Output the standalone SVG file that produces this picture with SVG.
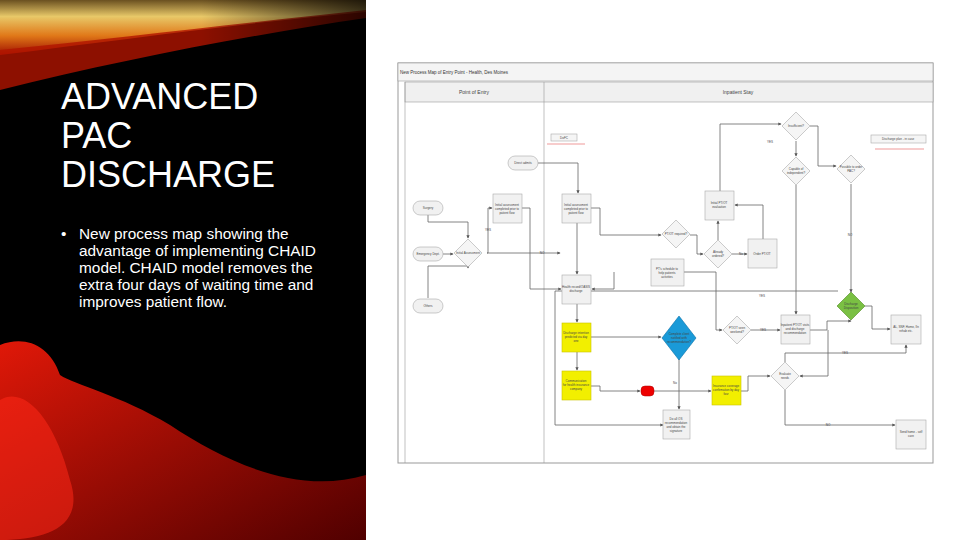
<svg xmlns="http://www.w3.org/2000/svg" width="960" height="540" viewBox="0 0 960 540">
<defs>
<style>
.t{font-family:"Liberation Sans",Arial,sans-serif;fill:#fff}
.s{font-family:"Liberation Sans",Arial,sans-serif;font-size:3px;fill:#444;text-anchor:middle}
.h{font-family:"Liberation Sans",Arial,sans-serif;font-size:5px;fill:#444;text-anchor:middle}
.b{fill:#f1f1f1;stroke:#aaa;stroke-width:0.6}
.y{fill:#f2ef00;stroke:#c9c400;stroke-width:0.6}
.r{fill:#f5f5f5;stroke:#aaa;stroke-width:0.6}
.c path{fill:none;stroke:#666;stroke-width:0.8;marker-end:url(#a)}
</style>
<marker id="a" viewBox="0 0 6 6" refX="5" refY="3" markerWidth="4" markerHeight="4" orient="auto"><path d="M0,0L6,3L0,6z" fill="#555"/></marker>
<linearGradient id="g1" x1="0" y1="0" x2="0" y2="1"><stop offset="0" stop-color="#6a5020"/><stop offset="0.3" stop-color="#e8c868"/><stop offset="0.65" stop-color="#e07818"/><stop offset="1" stop-color="#a01000"/></linearGradient>
<linearGradient id="g2" x1="0" y1="0" x2="1" y2="1"><stop offset="0" stop-color="#e01808"/><stop offset="1" stop-color="#500000"/></linearGradient>
<linearGradient id="fade" x1="0" y1="0" x2="1" y2="0"><stop offset="0.55" stop-color="#000" stop-opacity="0"/><stop offset="1" stop-color="#000" stop-opacity="0.7"/></linearGradient>
</defs>
<rect width="960" height="540" fill="#fff"/>
<g id="panel">
<rect width="366" height="540" fill="#000"/>
<path d="M0,0H366V12C250,22 120,40 0,55Z" fill="url(#g1)"/>
<path d="M0,50C120,38 250,22 366,10V18C250,35 120,60 0,90Z" fill="#b01400" opacity="0.8"/>
<rect width="366" height="90" fill="url(#fade)"/>
<path d="M0,345C25,335 50,345 60,375C75,385 120,395 170,425C230,465 300,495 366,475V540H0Z" fill="url(#g2)"/>
<path d="M0,400C25,385 55,420 70,480C85,525 50,540 0,540Z" fill="#ff2818" opacity="0.55"/>
<text class="t" x="61" y="109" font-size="36">ADVANCED</text>
<text class="t" x="61" y="148" font-size="36">PAC</text>
<text class="t" x="61" y="187" font-size="36">DISCHARGE</text>
<text class="t" font-size="15.4"><tspan x="61" y="239">•</tspan><tspan x="79" y="239">New process map showing the</tspan><tspan x="79" y="256">advantage of implementing CHAID</tspan><tspan x="79" y="273">model. CHAID model removes the</tspan><tspan x="79" y="290">extra four days of waiting time and</tspan><tspan x="79" y="307">improves patient flow.</tspan></text>
</g>
<g id="frame">
<rect x="398" y="63" width="535" height="400" fill="#fff" stroke="#999"/>
<rect x="398" y="63" width="535" height="18" fill="#f4f4f4" stroke="#999" stroke-width="0.6"/>
<text x="400" y="74" font-family="Liberation Sans,Arial,sans-serif" font-size="4.5" fill="#333">New Process Map of Entry Point - Health, Des Moines</text>
<rect x="405" y="82" width="528" height="20" fill="#f0f0f0" stroke="#999" stroke-width="0.6"/>
<line x1="405" y1="82" x2="405" y2="463" stroke="#999" stroke-width="0.6"/>
<line x1="544" y1="82" x2="544" y2="463" stroke="#999" stroke-width="0.6"/>
<text class="h" x="474" y="94">Point of Entry</text>
<text class="h" x="738" y="94">Inpatient Stay</text>
</g>
<g class="c">
<path d="M428,215V222H468V238"/>
<path d="M443,254H453"/>
<path d="M428,298V266H468V268"/>
<path d="M487,253H560"/>
<path d="M487,253H488V208H492"/>
<path d="M538,163H578V193"/>
<path d="M522,208H530V289H561"/>
<path d="M591,208H600V235H661"/>
<path d="M577,223V274"/>
<path d="M577,304V322"/>
<path d="M577,352V370"/>
<path d="M591,337H661"/>
<path d="M591,386H600V391H640"/>
<path d="M654,391H711"/>
<path d="M679,359V409"/>
<path d="M690,235H697V254H703"/>
<path d="M732,254H747"/>
<path d="M718,240V221"/>
<path d="M763,239V205H735"/>
<path d="M720,191V124H781"/>
<path d="M810,126H818V166H836"/>
<path d="M796,141V156"/>
<path d="M796,185V314"/>
<path d="M684,272H716V330H722"/>
<path d="M751,330H780"/>
<path d="M810,330H827V321H851"/>
<path d="M865,306H872V329H890"/>
<path d="M851,184V292"/>
<path d="M741,391H748V376H770"/>
<path d="M828,330V376H800"/>
<path d="M785,390V425H895"/>
<path d="M785,362V353H906V345"/>
<path d="M838,291H555V425H663"/>
<path d="M614,272V289H592"/>
</g>
<g id="labels" class="s">
<text x="488" y="231">YES</text><text x="542" y="254">NO</text>
<text x="770" y="143">YES</text><text x="850" y="236">NO</text>
<text x="741" y="255">No</text><text x="763" y="331">YES</text>
<text x="762" y="297">YES</text><text x="845" y="354">YES</text>
<text x="828" y="426">NO</text><text x="675" y="384">No</text>
</g>
<g id="n-dofc"><rect x="551" y="134" width="26" height="7" class="r"/><text class="s" x="564" y="139">DoFC</text><line x1="547" y1="144" x2="585" y2="144" stroke="#d33" stroke-width="0.5"/></g>
<g id="n-note"><rect x="871" y="135" width="55" height="8" class="r"/><text class="s" x="898" y="140">Discharge plan - in case</text><line x1="875" y1="149" x2="924" y2="149" stroke="#d33" stroke-width="0.5"/></g>
<g id="n-direct"><rect x="508" y="156" width="30" height="14" rx="7" class="b"/><text class="s" x="523" y="164">Direct admits</text></g>
<g id="n-surgery"><rect x="413" y="201" width="30" height="14" rx="7" class="b"/><text class="s" x="428" y="209">Surgery</text></g>
<g id="n-ed"><rect x="413" y="247" width="30" height="14" rx="7" class="b"/><text class="s" x="428" y="255">Emergency Dept.</text></g>
<g id="n-others"><rect x="413" y="299" width="30" height="14" rx="7" class="b"/><text class="s" x="428" y="307">Others</text></g>
<g id="n-ia"><path d="M468,239L482,253L468,267L454,253Z" class="r"/><text class="s" x="468" y="254">Initial Assessment</text></g>
<g id="n-b1"><rect x="493" y="194" width="29" height="29" class="b"/><text class="s" x="507" y="206">Initial assessment</text><text class="s" x="507" y="210">completed prior to</text><text class="s" x="507" y="214">patient flow</text></g>
<g id="n-b2"><rect x="562" y="194" width="29" height="29" class="b"/><text class="s" x="576" y="206">Initial assessment</text><text class="s" x="576" y="210">completed prior to</text><text class="s" x="576" y="214">patient flow</text></g>
<g id="n-oasis"><rect x="562" y="275" width="29" height="29" class="b"/><text class="s" x="576" y="288">Health record/OASIS</text><text class="s" x="576" y="292">discharge</text></g>
<g id="n-y1"><rect x="562" y="323" width="29" height="29" class="y"/><text class="s" x="576" y="334">Discharge intention</text><text class="s" x="576" y="338">predicted via day</text><text class="s" x="576" y="342">one</text></g>
<g id="n-y2"><rect x="562" y="371" width="29" height="29" class="y"/><text class="s" x="576" y="382">Communication</text><text class="s" x="576" y="386">for health insurance</text><text class="s" x="576" y="390">company</text></g>
<g id="n-red"><rect x="641" y="386" width="13" height="10" rx="4" fill="#e00" stroke="#a00" stroke-width="0.5"/></g>
<g id="n-blue"><path d="M679,316L696,338L679,360L662,338Z" fill="#1a9ad8" stroke="#0a70a8" stroke-width="0.6"/><text class="s" x="679" y="335">Complete client</text><text class="s" x="679" y="339">notified with</text><text class="s" x="679" y="343">recommendation?</text></g>
<g id="n-doall"><rect x="663" y="410" width="27" height="29" class="b"/><text class="s" x="676" y="420">Do all OS</text><text class="s" x="676" y="424">recommendation</text><text class="s" x="676" y="428">and obtain the</text><text class="s" x="676" y="432">signature</text></g>
<g id="n-y3"><rect x="712" y="376" width="29" height="29" class="y"/><text class="s" x="726" y="387">Insurance coverage</text><text class="s" x="726" y="391">confirmation by day</text><text class="s" x="726" y="395">four</text></g>
<g id="n-eval"><path d="M785,362L799,376L785,390L771,376Z" class="r"/><text class="s" x="785" y="375">Evaluate</text><text class="s" x="785" y="379">needs</text></g>
<g id="n-send"><rect x="896" y="420" width="30" height="29" class="b"/><text class="s" x="911" y="433">Send home - self</text><text class="s" x="911" y="437">care</text></g>
<g id="n-al"><rect x="891" y="315" width="30" height="29" class="b"/><text class="s" x="906" y="328">AL, SNF, Home, IIn</text><text class="s" x="906" y="332">rehab etc.</text></g>
<g id="n-green"><path d="M851,292L865,306L851,320L837,306Z" fill="#7ac043" stroke="#4f8a20" stroke-width="0.6"/><text class="s" x="851" y="305">Discharge</text><text class="s" x="851" y="309">Disposition</text></g>
<g id="n-ptot"><rect x="781" y="315" width="29" height="29" class="b"/><text class="s" x="795" y="326">Inpatient PT/OT visits</text><text class="s" x="795" y="330">and discharge</text><text class="s" x="795" y="334">recommendation</text></g>
<g id="n-seen"><path d="M737,316L751,330L737,344L723,330Z" class="r"/><text class="s" x="737" y="329">PT/OT seen</text><text class="s" x="737" y="333">weekend?</text></g>
<g id="n-assist"><rect x="651" y="259" width="33" height="27" class="b"/><text class="s" x="667" y="270">PT's schedule to</text><text class="s" x="667" y="274">help patients</text><text class="s" x="667" y="278">activities</text></g>
<g id="n-req"><path d="M676,220L690,234L676,248L662,234Z" class="r"/><text class="s" x="676" y="235">PT/OT required?</text></g>
<g id="n-already"><path d="M718,240L732,254L718,268L704,254Z" class="r"/><text class="s" x="718" y="253">Already</text><text class="s" x="718" y="257">ordered?</text></g>
<g id="n-order"><rect x="748" y="239" width="29" height="29" class="b"/><text class="s" x="762" y="255">Order PT/OT</text></g>
<g id="n-init"><rect x="705" y="191" width="29" height="29" class="b"/><text class="s" x="719" y="204">Initial PT/OT</text><text class="s" x="719" y="208">evaluation</text></g>
<g id="n-insuf"><path d="M796,112L810,126L796,140L782,126Z" class="r"/><text class="s" x="796" y="127">Insufficient?</text></g>
<g id="n-cap"><path d="M796,157L810,171L796,185L782,171Z" class="r"/><text class="s" x="796" y="170">Capable of</text><text class="s" x="796" y="174">independent?</text></g>
<g id="n-poss"><path d="M851,155L865,169L851,183L837,169Z" class="r"/><text class="s" x="851" y="168">Possible to order</text><text class="s" x="851" y="172">PAC?</text></g>
</svg>
